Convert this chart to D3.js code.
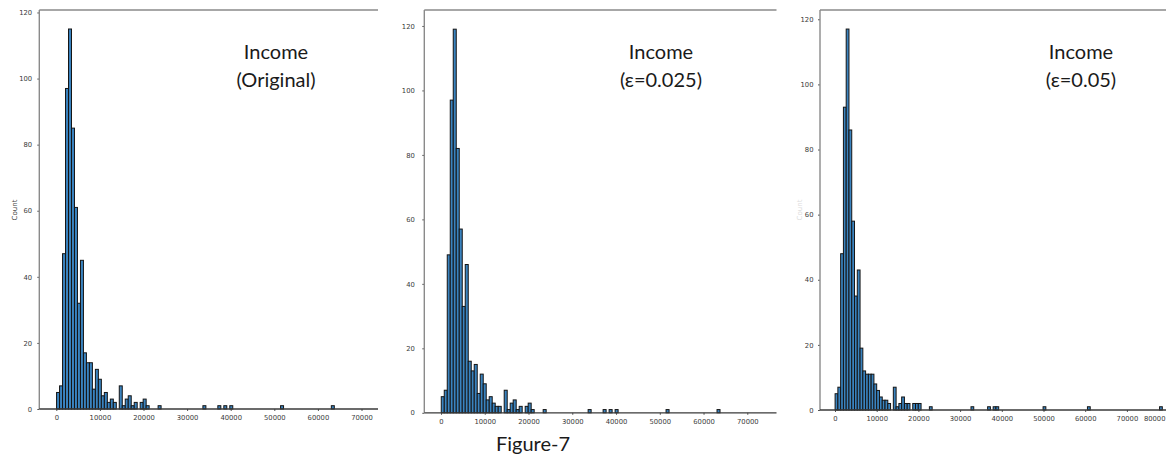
<!DOCTYPE html>
<html>
<head>
<meta charset="utf-8">
<script src="https://cdn.jsdelivr.net/npm/d3@7/dist/d3.min.js"></script>
<style>
  html, body { margin: 0; padding: 0; background: #fff; }
  svg { display: block; }
  .tick text { font-family: "DejaVu Sans", sans-serif; font-size: 6.8px; fill: #3a3a3a; }
  .tick line { stroke: #555; }
  .title, .caption { font-family: Lato, "Open Sans", sans-serif; fill: #1a1a1a; }
</style>
</head>
<body>
<div id="chart"></div>
<script>
// histogram counts, one entry per bin from the first bin onward
var countsOriginal = [5, 7, 47, 97, 115, 85, 61, 32, 45, 17, 14, 14, 6, 12, 9, 4, 5, 2, 3, 2, 0, 7, 1, 3, 4, 1, 2, 0, 2, 3, 1];
var countsEps025 = [5, 7, 49, 97, 119, 82, 57, 33, 46, 16, 13, 15, 6, 12, 9, 4, 5, 3, 2, 2, 0, 7, 1, 3, 4, 1, 2, 0, 2, 3, 1];
var countsEps05 = [5, 7, 48, 93, 117, 86, 58, 35, 43, 19, 12, 11, 11, 11, 8, 6, 4, 3, 3, 2, 0, 7, 1, 2, 4, 2, 2, 0, 2, 2, 2];

// far-out bins that hold a single record each
var tailOriginal = [34, 49, 54, 56, 58, 75, 92];
var tailEps025 = [34, 49, 54, 56, 58, 75, 92];
var tailEps05 = [34, 49, 55, 57, 58, 75, 91, 117];

var binStarts = [60, 60, 24];
var binWidths = [685, 685, 665];

var titles = [["Income", "(Original)"], ["Income", "(\u03b5=0.025)"], ["Income", "(\u03b5=0.05)"]];
var xTicksA = [0, 10000, 20000, 30000, 40000, 50000, 60000, 70000];
var xTicksB = [0, 10000, 20000, 30000, 40000, 50000, 60000, 70000, 80000];
var yTicks = [0, 20, 40, 60, 80, 100, 120];
var yLabel = "Count";
var caption = "Figure-7";

var width = 1166,
	height = 459;

// where each cropped matplotlib panel sits on the page
var panels = [
	{ counts: countsOriginal, tail: tailOriginal, xTicks: xTicksA, left: 39.3, right: 378, top: 10, bottom: 409, x0: 56.3, x70: 361.5, pad: 5.2, titleX: 276 },
	{ counts: countsEps025, tail: tailEps025, xTicks: xTicksA, left: 424.3, right: 776.5, top: 10, bottom: 412.8, x0: 441, x70: 747.3, pad: 7.5, titleX: 661 },
	{ counts: countsEps05, tail: tailEps05, xTicks: xTicksB, left: 820, right: 1166, top: 10, bottom: 410, x0: 835, x70: 1126.9, pad: 4.5, titleX: 1081 }
];

var svg = d3.select("#chart").append("svg")
	.attr("width", width)
	.attr("height", height);

panels.forEach(function(p, k) {
	var bins = p.counts.map(function(c, i) { return { i: i, c: c }; })
		.concat(p.tail.map(function(i) { return { i: i, c: 1 }; }))
		.filter(function(d) { return d.c > 0; });

	var maxCount = d3.max(bins, function(d) { return d.c; });

	var x = d3.scaleLinear().domain([0, 70000]).range([p.x0, p.x70]),
		y = d3.scaleLinear().domain([0, maxCount * 1.05]).range([p.bottom, p.top]);

	var g = svg.append("g");

	g.selectAll("rect.bar")
		.data(bins)
		.enter().append("rect")
		.attr("class", "bar")
		.attr("x", function(d) { return x(binStarts[k] + d.i * binWidths[k]); })
		.attr("width", function(d) { return x(binStarts[k] + (d.i + 1) * binWidths[k]) - x(binStarts[k] + d.i * binWidths[k]); })
		.attr("y", function(d) { return y(d.c); })
		.attr("height", function(d) { return y(0) - y(d.c); })
		.attr("fill", "#3a83bf")
		.attr("stroke", "#151515")
		.attr("stroke-width", 1);

	var yAxis = g.append("g")
		.attr("transform", "translate(" + p.left + ",0)")
		.call(d3.axisLeft(y).tickValues(yTicks).tickSize(2).tickPadding(p.pad));
	yAxis.select(".domain").remove();

	var xAxis = g.append("g")
		.attr("transform", "translate(0," + p.bottom + ")")
		.call(d3.axisBottom(x).tickValues(p.xTicks).tickFormat(d3.format("d")).tickSize(2).tickPadding(4.4));
	xAxis.select(".domain").remove();

	// a label that would run past the page edge is pulled back inside it
	xAxis.selectAll(".tick text")
		.filter(function(d) { return x(d) + 12 > width; })
		.attr("text-anchor", "end")
		.attr("x", function(d) { return width - 1 - x(d); });

	// spines: top and left are light, the baseline is darker
	g.append("line")
		.attr("x1", p.left).attr("x2", p.right)
		.attr("y1", p.top).attr("y2", p.top)
		.attr("stroke", "#8a8a8a").attr("stroke-width", 1.4);
	g.append("line")
		.attr("x1", p.left).attr("x2", p.left)
		.attr("y1", p.top).attr("y2", p.bottom)
		.attr("stroke", "#8a8a8a").attr("stroke-width", 1.4);
	g.append("line")
		.attr("x1", p.left).attr("x2", p.right)
		.attr("y1", p.bottom).attr("y2", p.bottom)
		.attr("stroke", "#3a3a3a").attr("stroke-width", 1.3);

	g.append("text")
		.attr("class", "title")
		.attr("x", p.titleX).attr("y", 59)
		.attr("text-anchor", "middle")
		.style("font-size", "20px")
		.text(titles[k][0]);
	g.append("text")
		.attr("class", "title")
		.attr("x", p.titleX).attr("y", 87)
		.attr("text-anchor", "middle")
		.style("font-size", "20px")
		.text(titles[k][1]);
});

// y label, full on the first panel and a faint cropped trace on the third
svg.append("text")
	.attr("transform", "translate(17,210) rotate(-90)")
	.attr("text-anchor", "middle")
	.style("font-family", "DejaVu Sans, sans-serif")
	.style("font-size", "7px")
	.style("fill", "#444")
	.text(yLabel);
svg.append("text")
	.attr("transform", "translate(802,210) rotate(-90)")
	.attr("text-anchor", "middle")
	.style("font-family", "DejaVu Sans, sans-serif")
	.style("font-size", "7px")
	.style("fill", "#ddd")
	.text(yLabel);

svg.append("text")
	.attr("class", "caption")
	.attr("x", 533).attr("y", 451)
	.attr("text-anchor", "middle")
	.style("font-size", "20px")
	.text(caption);
</script>
</body>
</html>
